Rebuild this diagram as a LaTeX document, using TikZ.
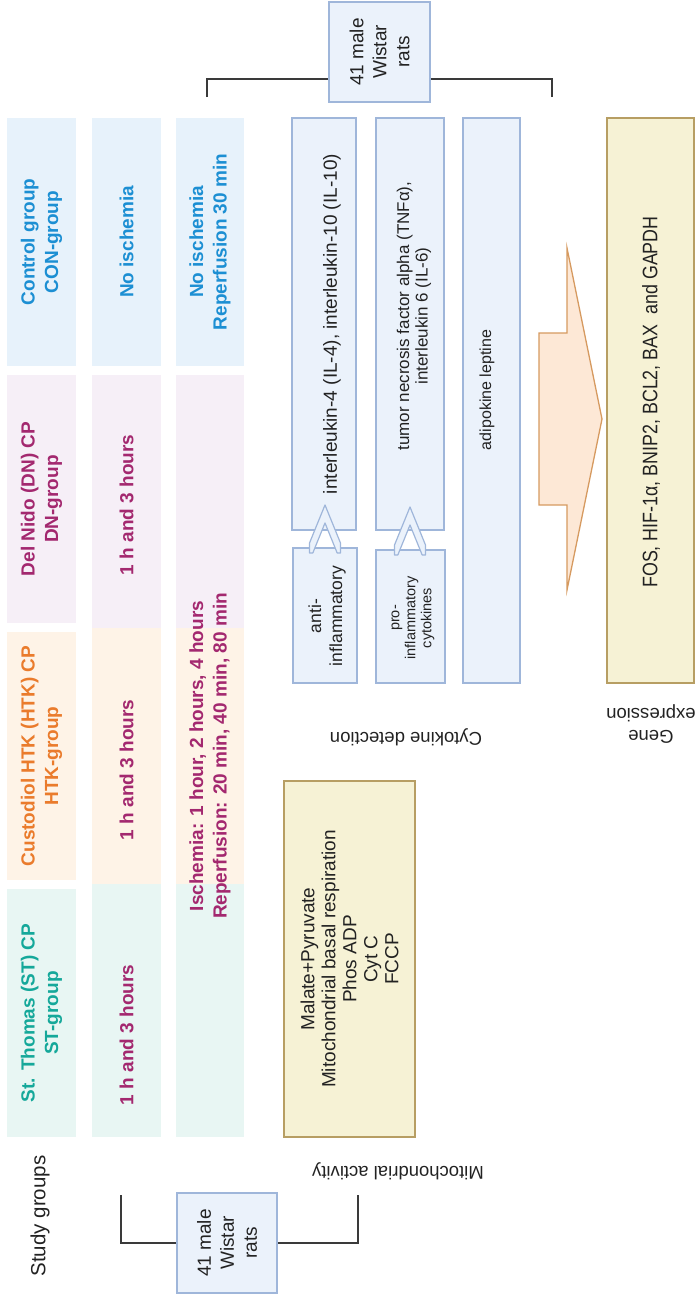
\documentclass[tikz,border=0pt]{standalone}
\usepackage{fontspec}
\setmainfont{Liberation Sans}
\usetikzlibrary{fit}
\definecolor{bF}{HTML}{E7F2FB}
\definecolor{pF}{HTML}{F6EFF7}
\definecolor{oF}{HTML}{FEF3E7}
\definecolor{tF}{HTML}{E8F6F3}
\definecolor{bT}{HTML}{1C8FD3}
\definecolor{pT}{HTML}{A3286F}
\definecolor{oT}{HTML}{EA7B2C}
\definecolor{tT}{HTML}{15A89A}
\definecolor{cF}{HTML}{EBF2FB}
\definecolor{cD}{HTML}{9FB6DA}
\definecolor{yF}{HTML}{F6F2D5}
\definecolor{yD}{HTML}{B79E63}
\definecolor{aF}{HTML}{FDE8D6}
\definecolor{aD}{HTML}{D69A60}
\definecolor{ln}{HTML}{3A3A3A}
\definecolor{tx}{HTML}{222222}
\begin{document}
\begin{tikzpicture}[x=1pt,y=-1pt,
  gbox/.style={draw=none, inner sep=0pt, fill=#1},
  gt/.style={rotate=90, align=center, inner sep=0pt, font=\fontsize{19}{23.5}\selectfont\bfseries},
  cbox/.style={draw=cD, fill=cF, line width=1.4pt, inner sep=0pt},
  ybox/.style={draw=yD, fill=yF, line width=1.4pt, inner sep=0pt},
  rt/.style={rotate=90, align=center, inner sep=0pt, text=tx},
  lbl/.style={rotate=180, align=center, inner sep=0pt, text=tx, font=\fontsize{18.5}{22}\selectfont},
  brk/.style={draw=ln, line width=1.5pt},
  chev/.style={draw=cD, fill=cF, line width=1.2pt, line join=round},
  barrow/.style={draw=aD, fill=aF, line width=1.3pt, line join=miter}]
\useasboundingbox (0,0) rectangle (698,1296);

% ---------- study group columns ----------
\node[gbox=bF, fit={(7,118)(76,366)}] (con) {};
\node[gbox=pF, fit={(7,375)(76,623)}] (dn) {};
\node[gbox=oF, fit={(7,632)(76,880)}] (htk) {};
\node[gbox=tF, fit={(7,889)(76,1137)}] (st) {};
\node[gt, text=bT] (tcon) at (con.center) {Control group\\CON-group};
\node[gt, text=pT] (tdn) at (dn.center) {Del Nido (DN) CP\\DN-group};
\node[gt, text=oT] (thtk) at (htk.center) {Custodiol HTK (HTK) CP\\HTK-group};
\node[gt, text=tT] (tst) at (st.center) {St. Thomas (ST) CP\\ST-group};

\node[gbox=bF, fit={(92,118)(161,366)}] (noi) {};
\node[gbox=pF, fit={(92,375)(161,628)}] (dn2) {};
\node[gbox=oF, fit={(92,628)(161,884)}] (htk2) {};
\node[gbox=tF, fit={(92,884)(161,1137)}] (st2) {};
\node[gt, text=bT] (tnoi) at (noi.center) {No ischemia};
\node[gt, text=pT] (tdn2) at (126.5,505) {1 h and 3 hours};
\node[gt, text=pT] (thtk2) at (126.5,770) {1 h and 3 hours};
\node[gt, text=pT] (tst2) at (126.5,1035) {1 h and 3 hours};

\node[gbox=bF, fit={(176,118)(244,366)}] (noi3) {};
\node[gbox=pF, fit={(176,375)(244,628)}] (dn3) {};
\node[gbox=oF, fit={(176,628)(244,884)}] (htk3) {};
\node[gbox=tF, fit={(176,884)(244,1137)}] (st3) {};
\node[gt, text=bT] (tnoi3) at (noi3.center) {No ischemia\\Reperfusion 30 min};
\node[gt, text=pT] (tisch) at (210,756) {Ischemia: 1 hour, 2 hours, 4 hours\\Reperfusion: 20 min, 40 min, 80 min};

% ---------- rats boxes and brackets ----------
\node[cbox, fit={(329,2)(430,102)}] (rats1) {};
\node[rt, font=\fontsize{19}{23}\selectfont] (trats1) at (rats1.center) {41 male\\Wistar\\rats};
\coordinate (h1) at (0,79);
\coordinate (tA) at (207,97);
\coordinate (tB) at (552,97);
\draw[brk] (tA) |- (rats1.west |- h1);
\draw[brk] (tB) |- (rats1.east |- h1);

\node[cbox, fit={(177,1193)(277,1293)}] (rats2) {};
\node[rt, font=\fontsize{19}{23}\selectfont] (trats2) at (rats2.center) {41 male\\Wistar\\rats};
\coordinate (bL) at (121,1195);
\coordinate (bR) at (358,1195);
\draw[brk] (bL) |- (rats2.west);
\draw[brk] (bR) |- (rats2.east);

\node[rotate=90, inner sep=0pt, text=tx, font=\fontsize{20.5}{22}\selectfont] (sg) at (40,1216) {Study groups};

% ---------- cytokine detection ----------
\node[cbox, fit={(292,118)(356,530)}] (il) {};
\node[cbox, fit={(293,548)(357,683)}] (anti) {};
\node[cbox, fit={(376,118)(444,530)}] (tnf) {};
\node[cbox, fit={(376,550)(445,683)}] (pro) {};
\node[cbox, fit={(463,118)(520,683)}] (adi) {};

\draw[chev] (309.5,553) -- (309.5,543) -- (325,505) -- (340.5,543) -- (340.5,553) -- (337.2,553) -- (325,523) -- (312.8,553) -- cycle;
\draw[chev] (394.5,555) -- (394.5,545) -- (410,507) -- (425.5,545) -- (425.5,555) -- (422.2,555) -- (410,525) -- (397.8,555) -- cycle;

\node[rt, font=\fontsize{19}{21}\selectfont] (til) at (332,324) {interleukin-4 (IL-4), interleukin-10 (IL-10)};
\node[rt, font=\fontsize{17}{18.5}\selectfont] (ttnf) at (414,316) {tumor necrosis factor alpha (TNFα),\\interleukin 6 (IL-6)};
\node[rt, font=\fontsize{16}{18}\selectfont] (tadi) at (487,390) {adipokine leptine};
\node[rt, font=\fontsize{17.5}{21}\selectfont] (tanti) at (327,616) {anti-\\inflammatory};
\node[rt, font=\fontsize{14.5}{16}\selectfont] (tpro) at (413,618) {pro-\\inflammatory\\cytokines};

\node[lbl] (cyto) at (406,737) {Cytokine detection};

% ---------- gene expression ----------
\draw[barrow] (539,333) -- (567,333) -- (567,248) -- (602,419) -- (567,590) -- (567,505) -- (539,505) -- cycle;
\node[ybox, fit={(607,118)(694,683)}] (gbx) {};
\node[rt, font=\fontsize{21}{22}\selectfont] (tg) at (651,402) {\scalebox{0.85}[1]{FOS, HIF-1α, BNIP2, BCL2, BAX\ \ and GAPDH}};
\node[lbl] (gene) at (651,724) {Gene\\expression};

% ---------- mitochondrial activity ----------
\node[ybox, fit={(284,781)(415,1137)}] (mbx) {};
\node[rt, font=\fontsize{19}{21}\selectfont] (tm) at (mbx.center) {Malate+Pyruvate\\Mitochondrial basal respiration\\Phos ADP\\Cyt C\\FCCP};
\node[lbl] (mito) at (398,1171) {Mitochondrial activity};
\end{tikzpicture}
\end{document}
